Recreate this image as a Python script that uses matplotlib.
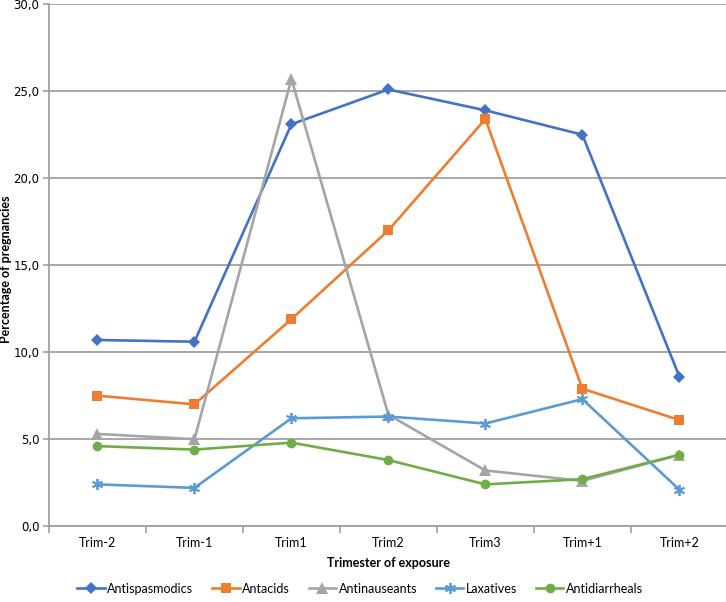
import matplotlib
matplotlib.use("Agg")
import matplotlib.pyplot as plt
from matplotlib.ticker import FuncFormatter

categories = ["Trim-2", "Trim-1", "Trim1", "Trim2", "Trim3", "Trim+1", "Trim+2"]
antispasmodics = [10.7, 10.6, 23.1, 25.1, 23.9, 22.5, 8.6]
antacids = [7.5, 7.0, 11.9, 17.0, 23.4, 7.9, 6.1]
antinauseants = [5.3, 5.0, 25.7, 6.4, 3.2, 2.6, 4.1]
laxatives = [2.4, 2.2, 6.2, 6.3, 5.9, 7.3, 2.1]
antidiarrheals = [4.6, 4.4, 4.8, 3.8, 2.4, 2.7, 4.1]

series = [
    ("Antispasmodics", antispasmodics, "#4472C4", "D", 6),
    ("Antacids", antacids, "#ED7D31", "s", 7),
    ("Antinauseants", antinauseants, "#A5A5A5", "^", 8),
    ("Laxatives", laxatives, "#5B9BD5", (6, 2, 0), 8),
    ("Antidiarrheals", antidiarrheals, "#70AD47", "o", 7),
]

plt.rcParams['font.family'] = ['Lato', 'DejaVu Sans']
fig = plt.figure(figsize=(7.26, 6.02), dpi=100)
ax = fig.add_axes([0.0675, 0.126, 0.935, 0.867])

x = list(range(len(categories)))
for name, vals, col, mk, ms in series:
    kw = dict(markeredgewidth=1.3) if mk == (6, 2, 0) else dict(markeredgewidth=0)
    ax.plot(x, vals, color=col, lw=1.9, marker=mk, markersize=ms,
            markerfacecolor=col, markeredgecolor=col, label=name, **kw)

ax.set_xlim(-0.5, len(categories) - 0.5)
ax.set_ylim(0, 30)
ax.set_yticks([0, 5, 10, 15, 20, 25, 30])
ax.yaxis.set_major_formatter(FuncFormatter(lambda v, p: f"{v:.1f}".replace(".", ",")))
ax.set_xticks(x)
ax.set_xticklabels(categories)
ax.set_xticks([i + 0.5 for i in range(-1, len(categories))], minor=True)
ax.tick_params(axis='x', which='major', length=0, pad=8, labelsize=9)
ax.tick_params(axis='x', which='minor', length=5, color='#a0a0a0', width=1.2)
ax.tick_params(axis='y', length=4, color='#a0a0a0', width=1.2, pad=3)
for lab in ax.get_yticklabels():
    lab.set_fontfamily('DejaVu Sans')
    lab.set_fontsize(8.5)
ax.grid(axis='y', color='#a0a0a0', lw=1.3)
ax.set_axisbelow(True)
for s in ['top', 'right']:
    ax.spines[s].set_visible(False)
for s in ['left', 'bottom']:
    ax.spines[s].set_color('#a0a0a0')
    ax.spines[s].set_linewidth(1.3)

ax.set_xlabel("Trimester of exposure", fontsize=9, fontweight='bold')
ax.xaxis.set_label_coords(0.5, -0.06)
ax.set_ylabel("Percentage of pregnancies", fontsize=9, fontweight='bold')
ax.yaxis.set_label_coords(-0.054, 0.492)

fig.legend(loc='center', bbox_to_anchor=(0.496, 0.022), ncol=5, frameon=False,
           fontsize=9, handlelength=2.2, columnspacing=1.5, handletextpad=0.2)

fig.savefig("out.png", dpi=100)
